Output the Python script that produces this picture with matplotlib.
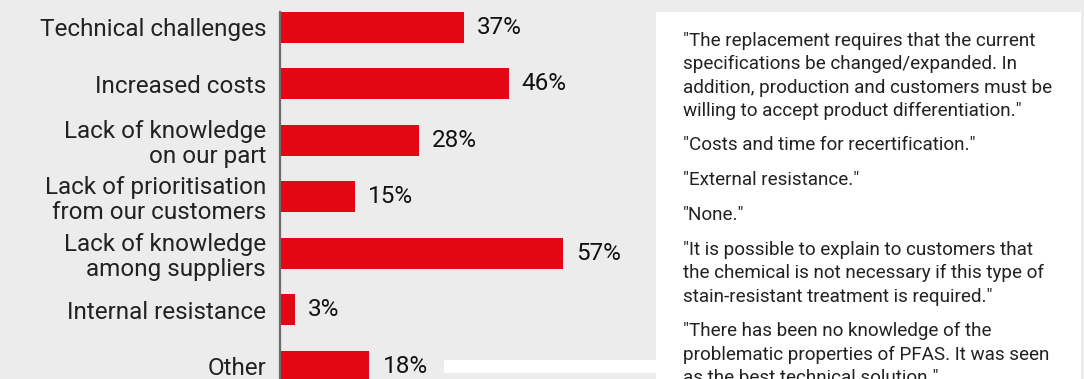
import matplotlib
matplotlib.use("Agg")
import matplotlib.pyplot as plt
from matplotlib.patches import Rectangle

# Survey answers: obstacles to replacing PFAS
categories = [
    "Technical challenges",
    "Increased costs",
    "Lack of knowledge\non our part",
    "Lack of prioritisation\nfrom our customers",
    "Lack of knowledge\namong suppliers",
    "Internal resistance",
    "Other",
]
shares = [37, 46, 28, 15, 57, 3, 18]

# Free-text answers shown beside the bars
quotes = [
    ["\"The replacement requires that the current",
     "specifications be changed/expanded. In",
     "addition, production and customers must be",
     "willing to accept product differentiation.\""],
    ["\"Costs and time for recertification.\""],
    ["\"External resistance.\""],
    ["\"None.\""],
    ["\"It is possible to explain to customers that",
     "the chemical is not necessary if this type of",
     "stain-resistant treatment is required.\""],
    ["\"There has been no knowledge of the",
     "problematic properties of PFAS. It was seen",
     "as the best technical solution.\""],
]

W, H = 1084, 379
BG = "#ececec"
RED = "#e30613"
FONT = "Roboto"

fig = plt.figure(figsize=(W / 100, H / 100), dpi=100, facecolor=BG)


def fx(px):
    return px / W


def fy(py):
    return 1 - py / H


# Bar axes: zero line at x=280 px, about 4.97 px per percentage point
ax_left, ax_right = 280, 656
ax_top, ax_bottom = 12, 379
ax = fig.add_axes([fx(ax_left), fy(ax_bottom), fx(ax_right - ax_left),
                   (ax_bottom - ax_top) / H])
ax.set_facecolor("none")
ypos = list(range(len(categories)))
ax.barh(ypos, shares, height=0.543, color=RED, zorder=2)
ax.set_xlim(0, (ax_right - ax_left) / 4.97)
ax.set_ylim(6.225, -0.271)
for s in ["top", "right", "bottom"]:
    ax.spines[s].set_visible(False)
ax.spines["left"].set_color("#6b6b6b")
ax.spines["left"].set_linewidth(1.6)
ax.set_xticks([])
ax.set_yticks(ypos)
ax.set_yticklabels(categories, fontsize=17.5, color="#222222",
                   family=FONT, linespacing=1.1)
ax.tick_params(axis="y", length=0, pad=10)

for y, v in zip(ypos, shares):
    ax.annotate(f"{v}%", xy=(v, y), xytext=(9.4, 0),
                textcoords="offset points", va="center", ha="left",
                fontsize=17.5, color="#111111", family=FONT)

# White quote panel on the right and strip under the bars
fig.patches.append(Rectangle((fx(656), fy(379)), fx(1081 - 656), (379 - 12) / H,
                             transform=fig.transFigure, facecolor="white",
                             edgecolor="none", zorder=0))
fig.patches.append(Rectangle((fx(444), fy(373)), fx(656 - 444), 13 / H,
                             transform=fig.transFigure, facecolor="white",
                             edgecolor="none", zorder=0))

baselines = [46, 150, 185, 220, 255, 336.5]
line_step = 23.4
for para, base in zip(quotes, baselines):
    for k, line in enumerate(para):
        fig.text(fx(683), fy(base + k * line_step), line, fontsize=13.6,
                 color="#222222", family=FONT, ha="left", va="baseline")

fig.savefig("out.png", dpi=100, facecolor=BG)
